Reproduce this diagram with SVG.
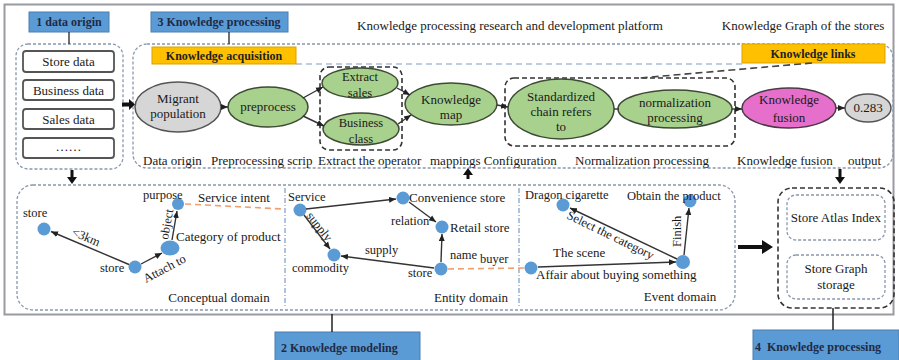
<svg xmlns="http://www.w3.org/2000/svg" width="899" height="360" viewBox="0 0 899 360">
<defs>
<marker id="arr" markerUnits="userSpaceOnUse" markerWidth="8" markerHeight="8" refX="7" refY="4" orient="auto">
<path d="M0,1 L7,4 L0,7 Z" fill="#222"/>
</marker>
<style>
text{font-family:"Liberation Serif","Times New Roman",serif;fill:#1a1a1a;}
.t13{font-size:13px;}
.t12{font-size:12.5px;}
.lab{font-size:12px;font-weight:bold;fill:#1f2a44;}
.ylab{font-size:12px;font-weight:bold;fill:#222;}
.c{text-anchor:middle;}
.blue{fill:#5b9bd5;stroke:#4a7fb0;stroke-width:1;}
.yel{fill:#ffc000;stroke:#d9a300;stroke-width:1;}
.cont{fill:none;stroke:#8a97ad;stroke-width:1.3;stroke-dasharray:3,2;}
.dk{fill:none;stroke:#333;stroke-width:1.6;stroke-dasharray:5,3;}
.box{fill:#fff;stroke:#555;stroke-width:1.8;}
.grn{fill:#a9d18e;stroke:#3d4a35;stroke-width:1.5;}
.gry{fill:#d6d6d6;stroke:#555;stroke-width:1.5;}
.pnk{fill:#e56fca;stroke:#4a3a45;stroke-width:1.5;}
.nd{fill:#5b9bd5;}
.ln{fill:none;stroke:#333;stroke-width:1.4;}
.lnA{fill:none;stroke:#333;stroke-width:1.4;marker-end:url(#arr);}
.or{fill:none;stroke:#f0a070;stroke-width:1.6;stroke-dasharray:6,4;}
.dd{fill:none;stroke:#7d9cc5;stroke-width:1.2;stroke-dasharray:5,2,1,2;}
.thk{fill:#111;}
</style>
</defs>

<!-- outer frame -->
<rect x="4.5" y="4.5" width="889" height="310" fill="#fff" stroke="#9a9aa2" stroke-width="2"/>

<!-- containers -->
<g id="container-data-origin">
<rect x="16" y="44" width="107" height="125" rx="12" class="cont"/>
</g>
<g id="container-processing">
<rect x="133" y="44" width="760" height="124" rx="14" class="cont"/>
<line x1="296" y1="64" x2="742" y2="64" stroke="#a9bddb" stroke-width="1.3" stroke-dasharray="6,4"/>
<text x="510" y="30" class="t13 c">Knowledge processing research and development platform</text>
<text x="803" y="30" class="t13 c">Knowledge Graph of  the stores</text>
<text x="143" y="165" class="t13">Data origin</text>
<text x="211" y="165" class="t13">Preprocessing scrip</text>
<text x="318" y="165" class="t13">Extract the operator</text>
<text x="430" y="165" class="t13">mappings Configuration</text>
<text x="575" y="165" class="t13">Normalization processing</text>
<text x="737" y="165" class="t13">Knowledge fusion</text>
<text x="848" y="165" class="t13">output</text>
</g>
<g id="container-modeling">
<rect x="17" y="185" width="718" height="125" rx="16" class="cont"/>
<line x1="285" y1="188" x2="285" y2="306" class="dd"/>
<line x1="519" y1="188" x2="519" y2="306" class="dd"/>
<text x="219" y="302" class="t13 c">Conceptual domain</text>
<text x="471" y="302" class="t13 c">Entity domain</text>
<text x="680" y="301" class="t13 c">Event domain</text>
</g>
<g id="container-storage">
<rect x="778" y="188" width="116" height="120" rx="14" class="dk"/>
</g>

<!-- labels -->
<g id="label-1">
<rect x="29" y="12" width="80" height="20" class="blue"/>
<text x="69" y="26" class="lab c">1 data origin</text>
</g>
<g id="label-3">
<rect x="151" y="12" width="137" height="20" class="blue"/>
<text x="219" y="26" class="lab c">3 Knowledge processing</text>
</g>
<g id="label-2">
<rect x="275" y="332" width="145" height="30" class="blue"/>
<text x="281" y="352" class="lab">2 Knowledge modeling</text>
</g>
<g id="label-4">
<rect x="753" y="330" width="146" height="32" class="blue"/>
<text x="755" y="351" class="lab" xml:space="preserve">4  Knowledge processing</text>
</g>
<g id="knowledge-acquisition">
<rect x="152" y="47" width="144" height="17" class="yel"/>
<text x="224" y="60" class="ylab c">Knowledge acquisition</text>
</g>
<g id="knowledge-links">
<rect x="742" y="44" width="143" height="19" class="yel"/>
<text x="813" y="58" class="ylab c">Knowledge links</text>
</g>

<!-- data origin boxes -->
<g id="store-data"><rect x="23" y="51" width="91" height="21" rx="3" class="box"/><text x="68.5" y="66" class="t13 c">Store data</text></g>
<g id="business-data"><rect x="23" y="80" width="91" height="20" rx="3" class="box"/><text x="68.5" y="94.5" class="t13 c">Business data</text></g>
<g id="sales-data"><rect x="23" y="109" width="91" height="20" rx="3" class="box"/><text x="68.5" y="123.5" class="t13 c">Sales data</text></g>
<g id="more-data"><rect x="23" y="138" width="91" height="20" rx="3" class="box"/><text x="68.5" y="151" class="t13 c">……</text></g>

<!-- processing nodes -->
<g id="group-extract"><rect x="320" y="67" width="82" height="83" rx="9" class="dk"/></g>
<g id="group-normalize"><rect x="505" y="78" width="230" height="68" rx="9" class="dk"/></g>
<g id="migrant-population"><ellipse cx="178" cy="107" rx="43" ry="25" class="gry"/><text x="178" y="103" class="t13 c">Migrant</text><text x="178" y="118" class="t13 c">population</text></g>
<g id="preprocess"><ellipse cx="268" cy="107" rx="40" ry="20" class="grn"/><text x="268" y="111" class="t13 c">preprocess</text></g>
<g id="extract-sales"><ellipse cx="360" cy="83" rx="38" ry="15" class="grn"/><text x="360" y="81" class="t12 c">Extract</text><text x="360" y="97" class="t12 c">sales</text></g>
<g id="business-class"><ellipse cx="361" cy="129" rx="38" ry="16" class="grn"/><text x="361" y="127" class="t12 c">Business</text><text x="361" y="143" class="t12 c">class</text></g>
<g id="knowledge-map"><ellipse cx="451" cy="104" rx="46" ry="21" class="grn"/><text x="451" y="104" class="t13 c">Knowledge</text><text x="451" y="119" class="t13 c">map</text></g>
<g id="standardized-chain"><ellipse cx="561" cy="109" rx="53" ry="30" class="grn"/><text x="561" y="101" class="t13 c">Standardized</text><text x="561" y="116" class="t13 c">chain refers</text><text x="561" y="131" class="t13 c">to</text></g>
<g id="normalization-processing"><ellipse cx="675" cy="109" rx="57" ry="19" class="grn"/><text x="675" y="107" class="t13 c">normalization</text><text x="675" y="122" class="t13 c">processing</text></g>
<g id="knowledge-fusion"><ellipse cx="789" cy="108" rx="47" ry="20" class="pnk"/><text x="789" y="104" class="t13 c">Knowledge</text><text x="789" y="122" class="t13 c">fusion</text></g>
<g id="output-value"><ellipse cx="868" cy="108" rx="23" ry="14" class="gry"/><text x="868" y="112" class="t13 c">0.283</text></g>

<!-- storage -->
<g id="store-atlas-index"><rect x="787" y="195" width="98" height="45" rx="9" class="cont"/><text x="836" y="222" class="t13 c">Store Atlas Index</text></g>
<g id="store-graph-storage"><rect x="787" y="255" width="98" height="44" rx="9" class="cont"/><text x="836" y="273" class="t13 c">Store Graph</text><text x="836" y="289" class="t13 c">storage</text></g>

<!-- domain nodes -->
<g id="c-store1"><circle cx="44" cy="229" r="6.5" class="nd"/><text x="23" y="217" class="t12">store</text></g>
<g id="c-store2"><circle cx="135" cy="267" r="6.5" class="nd"/><text x="100" y="272" class="t12">store</text></g>
<g id="c-category"><ellipse cx="170" cy="248" rx="9.5" ry="7.5" class="nd"/><text x="176" y="241" class="t13">Category of product</text></g>
<g id="c-purpose"><circle cx="178" cy="204" r="6" class="nd"/><text x="143" y="199" class="t12">purpose</text></g>
<g id="c-service-intent"><text x="198" y="202" class="t13">Service intent</text></g>

<g id="e-service"><circle cx="300" cy="210" r="6.5" class="nd"/><text x="288" y="201" class="t12">Service</text></g>
<g id="e-convenience"><circle cx="403" cy="198" r="6.5" class="nd"/><text x="409" y="202" class="t13">Convenience store</text></g>
<g id="e-retail"><circle cx="442" cy="227" r="6.5" class="nd"/><text x="450" y="232" class="t13">Retail store</text></g>
<g id="e-commodity"><circle cx="334" cy="255" r="6.5" class="nd"/><text x="292" y="272" class="t12">commodity</text></g>
<g id="e-store"><circle cx="441" cy="269" r="6.5" class="nd"/><text x="408" y="277" class="t12">store</text></g>

<g id="v-affair"><circle cx="531" cy="268" r="6.5" class="nd"/><text x="536" y="279" class="t13">Affair about buying something</text><text x="553" y="257" class="t13">The scene</text></g>
<g id="v-dragon"><circle cx="563" cy="205" r="6.5" class="nd"/><text x="525" y="199" class="t12">Dragon cigarette</text></g>
<g id="v-obtain"><circle cx="690" cy="201" r="6.5" class="nd"/><text x="627" y="200" class="t12">Obtain the product</text></g>
<g id="v-hub"><circle cx="683" cy="262" r="7" class="nd"/></g>

<!-- connectors -->
<g id="connectors">
<!-- label stems -->
<line x1="69" y1="32" x2="69" y2="44" stroke="#222" stroke-width="1.3"/>
<line x1="229" y1="32" x2="229" y2="44" stroke="#222" stroke-width="1.3"/>
<line x1="332" y1="314" x2="332" y2="332" stroke="#222" stroke-width="1.5"/>
<line x1="833" y1="308" x2="833" y2="330" stroke="#222" stroke-width="1.5"/>
<!-- thick arrows -->
<path d="M122,102.5 L129,102.5 L129,99 L135,104.5 L129,110 L129,106.5 L122,106.5 Z" class="thk"/>
<path d="M70.5,170 L73.5,170 L73.5,177 L77,177 L72,184 L67,177 L70.5,177 Z" class="thk"/>
<path d="M466.5,179 L469.5,179 L469.5,175 L473,175 L468,168 L463,175 L466.5,175 Z" class="thk"/>
<path d="M838.5,169 L841.5,169 L841.5,177 L845,177 L840,184 L835,177 L838.5,177 Z" class="thk"/>
<path d="M738,245 L762,245 L762,240 L773,247 L762,254 L762,249 L738,249 Z" class="thk"/>
<!-- processing flow -->
<line x1="221" y1="107" x2="228" y2="107" class="lnA"/>
<line x1="303" y1="98" x2="323" y2="87" class="lnA"/>
<line x1="303" y1="116" x2="324" y2="126" class="lnA"/>
<line x1="397" y1="88" x2="410" y2="95" class="lnA"/>
<line x1="398" y1="124" x2="411" y2="115" class="lnA"/>
<line x1="497" y1="105" x2="508" y2="107" class="lnA"/>
<line x1="614" y1="109" x2="619" y2="109" class="ln"/>
<line x1="732" y1="109" x2="742" y2="109" class="lnA"/>
<line x1="836" y1="108" x2="845" y2="108" class="lnA"/>
<line x1="812" y1="63" x2="640" y2="78" stroke="#444" stroke-width="1.6" stroke-dasharray="7,4"/>
<!-- conceptual -->
<line x1="129" y1="264.5" x2="51" y2="231.5" class="lnA"/>
<line x1="141" y1="264" x2="162" y2="253" class="lnA"/>
<line x1="172" y1="240" x2="177" y2="211" class="lnA"/>
<path d="M185,204 L283,209" class="or"/>
<text transform="translate(71,235) rotate(23)" class="t12">&lt;3km</text>
<text transform="translate(146,283) rotate(-28)" class="t12">Attach to</text>
<text transform="translate(168,240) rotate(-80)" class="t12">object</text>
<!-- entity -->
<line x1="306" y1="209" x2="396" y2="199" class="lnA"/>
<line x1="409" y1="202" x2="436" y2="222" class="lnA"/>
<line x1="441" y1="262" x2="442" y2="234" class="lnA"/>
<line x1="434" y1="268" x2="341" y2="256" class="lnA"/>
<line x1="304" y1="215" x2="330" y2="249" class="lnA"/>
<path d="M448,269 L524,268" class="or"/>
<text x="391" y="225" class="t12">relation</text>
<text x="365" y="254" class="t12">supply</text>
<text transform="translate(306,216) rotate(52)" class="t12">supply</text>
<text x="450" y="259" class="t12">name</text>
<text x="480" y="263" class="t12">buyer</text>
<!-- event -->
<line x1="538" y1="267" x2="676" y2="262" class="lnA"/>
<line x1="677" y1="259" x2="570" y2="208" class="lnA"/>
<line x1="684" y1="255" x2="689" y2="208" class="lnA"/>
<text transform="translate(566,218) rotate(26)" class="t12">Select the category</text>
<text transform="translate(681,247) rotate(-90)" class="t12">Finish</text>
</g>
</svg>
